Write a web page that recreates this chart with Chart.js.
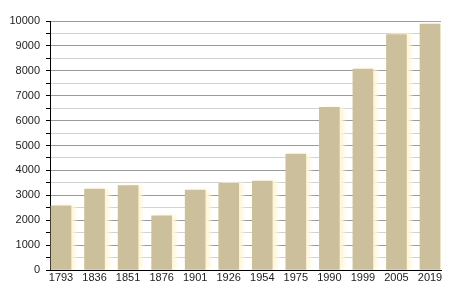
<!DOCTYPE html>
<html>
<head>
<meta charset="utf-8">
<script src="https://cdn.jsdelivr.net/npm/chart.js@4"></script>
<style>
  html, body { margin: 0; padding: 0; background: #fff; }
  #box { width: 450px; height: 300px; }
</style>
</head>
<body>
<div id="box"><canvas id="grafico" width="450" height="300"></canvas></div>
<script>
// anni del censimento e popolazione
var anni = ["1793", "1836", "1851", "1876", "1901", "1926", "1954", "1975", "1990", "1999", "2005", "2019"];
var abitanti = [2580, 3250, 3390, 2180, 3210, 3480, 3570, 4660, 6530, 8070, 9450, 9880];
var tickY = [0, 1000, 2000, 3000, 4000, 5000, 6000, 7000, 8000, 9000, 10000];

var punti = [];
for (var i = 0; i < abitanti.length; i++) {
    punti.push({ x: i, y: abitanti[i] });
}

// ombra chiara a destra delle barre
var ombra = {
    id: "ombra",
    beforeDatasetsDraw: function (chart) {
        var ctx = chart.ctx;
        ctx.save();
        ctx.shadowColor = "rgba(255,246,215,1)";
        ctx.shadowOffsetX = 4;
        ctx.shadowBlur = 4;
    },
    afterDatasetsDraw: function (chart) {
        chart.ctx.restore();
    }
};

var ctx = document.getElementById("grafico");
var grafico = new Chart(ctx, {
    type: "bar",
    data: {
        datasets: [{
            data: punti,
            backgroundColor: "#cbc09b",
            borderWidth: 0,
            barThickness: 20
        }]
    },
    plugins: [ombra],
    options: {
        responsive: false,
        animation: false,
        layout: { padding: { top: 21, right: 9, left: 0, bottom: 0 } },
        plugins: {
            legend: { display: false },
            tooltip: { enabled: false }
        },
        scales: {
            x: {
                type: "linear",
                offset: false,
                min: -0.328,
                max: 11.328,
                afterBuildTicks: function (scale) {
                    scale.ticks = anni.map(function (a, i) { return { value: i }; });
                },
                afterFit: function (scale) { scale.height = 30; },
                grid: { display: false, drawTicks: false },
                border: { color: "#000", width: 1 },
                ticks: {
                    autoSkip: false,
                    padding: 1,
                    color: "#222",
                    font: { family: "Liberation Sans, Arial", size: 11 },
                    maxRotation: 0,
                    callback: function (v) { return anni[v]; }
                }
            },
            y: {
                min: 0,
                max: 10000,
                afterBuildTicks: function (scale) {
                    var t = [];
                    for (var v = 0; v <= 10000; v += 500) t.push({ value: v });
                    scale.ticks = t;
                },
                afterFit: function (scale) { scale.width = 50; },
                border: { color: "#000", width: 1 },
                grid: {
                    color: function (c) {
                        if (c.tick && c.tick.value % 1000 !== 0) return "#d2d2d2";
                        return "#9a9a9a";
                    },
                    tickColor: "#000",
                    tickLength: 4
                },
                ticks: {
                    autoSkip: false,
                    padding: 6,
                    color: "#222",
                    font: { family: "Liberation Sans, Arial", size: 11 },
                    callback: function (v) {
                        return tickY.indexOf(v) >= 0 ? String(v) : "";
                    }
                }
            }
        }
    }
});
</script>
</body>
</html>
